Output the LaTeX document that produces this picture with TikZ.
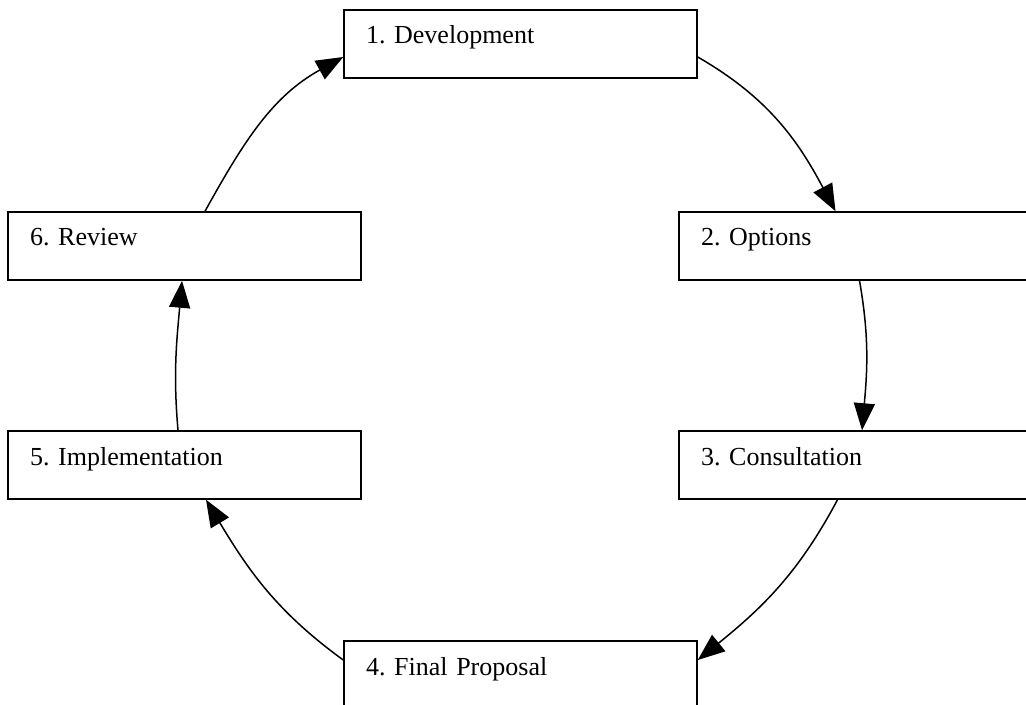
\documentclass[tikz,border=0pt]{standalone}
\usepackage{fontspec}
\setmainfont{Liberation Serif}
\usetikzlibrary{arrows.meta}
\frenchspacing

\begin{document}
\begin{tikzpicture}[x=0.5pt, y=0.5pt,
    stage/.style={draw, line width=0.75pt, rectangle, inner xsep=11pt, inner ysep=7pt,
      text width=154.5pt, align=left, text height=10pt, text depth=10pt,
      font=\fontsize{13pt}{15pt}\selectfont},
    flow/.style={line width=0.75pt, -{Triangle[length=13.5pt,width=10.5pt]}}]
      \useasboundingbox (0,0) rectangle (1026,-705);

      \node[stage] (dev)  at (520.5,-44)  {1. Development};
      \node[stage] (opt)  at (855.5,-246) {2. Options};
      \node[stage] (cons) at (855.5,-465) {3. Consultation};
      \node[stage] (prop) at (520.5,-675) {4. Final Proposal};
      \node[stage] (impl) at (184.5,-465) {5. Implementation};
      \node[stage] (rev)  at (184.5,-246) {6. Review};

      % round the cycle
      \draw[flow] ([yshift=-6.5pt]dev.east) to[out=-30, in=118] ([xshift=-10pt]opt.north);
      \draw[flow] ([xshift=2pt]opt.south) to[out=-80, in=85] ([xshift=3.25pt]cons.north);
      \draw[flow] ([xshift=-9pt]cons.south) to[out=-118, in=39] ([yshift=7.5pt]prop.east);
      \draw[flow] ([yshift=7.5pt]prop.west) to[out=144, in=-59] ([xshift=10.75pt]impl.south);
      \draw[flow] ([xshift=-3.25pt]impl.north) to[out=95, in=-95] ([xshift=-1.25pt]rev.south);
      \draw[flow] ([xshift=10.25pt]rev.north) to[out=61, in=-151] ([yshift=-6.5pt]dev.west);
\end{tikzpicture}
\end{document}
